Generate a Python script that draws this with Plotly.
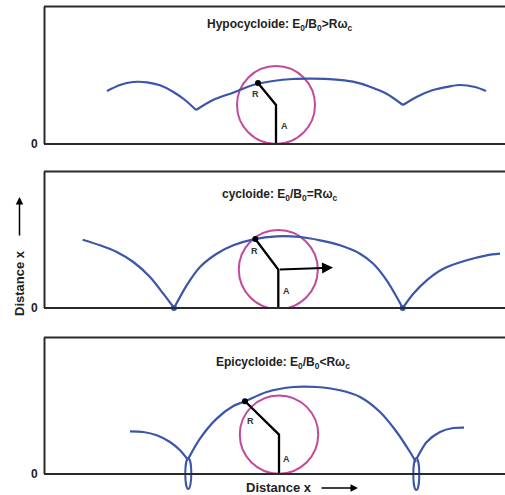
import plotly.graph_objects as go

# ---------------- data (x in px from left, y = height above baseline) -------------
hypo_left_x = [107, 120, 133, 147, 160, 173, 185, 196]
hypo_left_y = [53, 59, 62, 61.7, 58.7, 52.3, 44, 34]
hypo_mid_x = [196, 213, 233, 253, 273, 293, 313, 333, 353, 370, 387, 403]
hypo_mid_y = [34, 44, 51.3, 59, 63, 65, 65.3, 64.7, 62.3, 57.3, 50, 39]
hypo_right_x = [403, 417, 433, 450, 460, 475, 486]
hypo_right_y = [39, 47.3, 54, 57.7, 59, 57, 53]

cyc_left_x = [82.7, 100, 116.7, 133.3, 150, 163.3, 174]
cyc_left_y = [68.3, 62.7, 56, 46, 31, 14.3, 0]
cyc_mid_x = [174, 186.7, 200, 216.7, 233.3, 253.3, 276.7, 300, 320, 340, 360, 373.3, 386.7, 396.7, 402.7]
cyc_mid_y = [0, 22.7, 41, 54.3, 62.7, 68.7, 71.7, 71, 67.7, 62.7, 54.3, 44.3, 27.7, 11, 0]
cyc_right_x = [402.7, 413.3, 426.7, 443.3, 466.7, 486.7, 500]
cyc_right_y = [0, 14.3, 27.7, 39.3, 47.7, 52.7, 54.3]
cyc_cusp_x = [174, 402.7]
cyc_cusp_y = [0, 0]

epi_left_x = [130, 143.3, 156.7, 170, 180, 188.3]
epi_left_y = [42.7, 42, 38.7, 32, 23.7, 13.7]
epi_mid_x = [188.3, 200, 216.7, 233.3, 245, 266.7, 293.3, 316.7, 340, 360, 380, 396.7, 410, 416]
epi_mid_y = [15.4, 35.4, 55.4, 68, 72.7, 82, 87, 87, 83.7, 77, 62, 42, 22, 12]
epi_right_x = [416.7, 426.7, 440, 453.3, 464]
epi_right_y = [15.4, 32, 42, 46, 46.4]
epi_loop_x = [188.3, 416.3]        # loop centres
epi_loop_top = [15.7, 15.7]
epi_loop_bottom = [-15, -16]

# wheel: centre x, centre y, radius, point on rim (dot)
wheel_cx = [276, 278.3, 279]
wheel_cy = [39, 38.4, 39.4]
wheel_r = [39, 39.5, 39.2]
dot_x = [258, 255.3, 245]
dot_y = [61, 69, 72.7]
R_lab = [(255.7, 49.7), (254, 57), (250.7, 53)]
A_lab = [(284, 18), (286, 16.7), (286, 14.7)]
titles = ["<b>Hypocycloide: E<sub>0</sub>/B<sub>0</sub>&gt;Rω<sub>c</sub></b>",
          "<b>cycloide: E<sub>0</sub>/B<sub>0</sub>=Rω<sub>c</sub></b>",
          "<b>Epicycloide: E<sub>0</sub>/B<sub>0</sub>&lt;Rω<sub>c</sub></b>"]
title_pos = [(280, 119), (280, 113), (283, 111)]
drift_arrow = (333, 40.4)

# ---------------- layout helpers ----------------
W, H = 505, 495
ML, MR, MT, MB = 44, 0, 6, 4
PW, PH = W - ML - MR, H - MT - MB


def px(x):
    return (x - ML) / PW


def py(y):
    return (H - MB - y) / PH


BLUE = "#3b56a9"
MAG = "#c24a9c"
FONT = "Liberation Sans, Arial, sans-serif"

fig = go.Figure()


def curve(x, y, ax):
    fig.add_trace(go.Scatter(x=x, y=y, mode="lines", xaxis=ax[0], yaxis=ax[1],
                             line=dict(color=BLUE, width=2.2, shape="spline", smoothing=0.8),
                             hoverinfo="skip", showlegend=False))


axes = [("x", "y"), ("x2", "y2"), ("x3", "y3")]
curve(hypo_left_x, hypo_left_y, axes[0])
curve(hypo_mid_x, hypo_mid_y, axes[0])
curve(hypo_right_x, hypo_right_y, axes[0])
curve(cyc_left_x, cyc_left_y, axes[1])
curve(cyc_mid_x, cyc_mid_y, axes[1])
curve(cyc_right_x, cyc_right_y, axes[1])
fig.add_trace(go.Scatter(x=cyc_cusp_x, y=cyc_cusp_y, mode="markers", xaxis="x2", yaxis="y2",
                         marker=dict(color=BLUE, size=6), cliponaxis=False,
                         hoverinfo="skip", showlegend=False))
curve(epi_left_x, epi_left_y, axes[2])
curve(epi_mid_x, epi_mid_y, axes[2])
curve(epi_right_x, epi_right_y, axes[2])

shapes = []
annotations = []
for i, (xa, ya) in enumerate(axes):
    # wheel
    shapes.append(dict(type="circle", xref=xa, yref=ya, layer="below",
                       x0=wheel_cx[i] - wheel_r[i], x1=wheel_cx[i] + wheel_r[i],
                       y0=wheel_cy[i] - wheel_r[i], y1=wheel_cy[i] + wheel_r[i],
                       line=dict(color=MAG, width=2)))
    # A and R segments
    fig.add_trace(go.Scatter(x=[wheel_cx[i], wheel_cx[i], dot_x[i]],
                             y=[0, wheel_cy[i], dot_y[i]],
                             mode="lines", xaxis=xa, yaxis=ya,
                             line=dict(color="black", width=2.3),
                             hoverinfo="skip", showlegend=False))
    fig.add_trace(go.Scatter(x=[dot_x[i]], y=[dot_y[i]], mode="markers", xaxis=xa, yaxis=ya,
                             marker=dict(color="black", size=6),
                             hoverinfo="skip", showlegend=False))
    annotations.append(dict(xref=xa, yref=ya, x=R_lab[i][0], y=R_lab[i][1], text="<b>R</b>",
                            xanchor="center", yanchor="middle",
                            showarrow=False, font=dict(family=FONT, size=9, color="#333")))
    annotations.append(dict(xref=xa, yref=ya, x=A_lab[i][0], y=A_lab[i][1], text="<b>A</b>",
                            xanchor="center", yanchor="middle",
                            showarrow=False, font=dict(family=FONT, size=9, color="#333")))
    annotations.append(dict(xref=xa, yref=ya, x=title_pos[i][0], y=title_pos[i][1], text=titles[i],
                            xanchor="center", yanchor="middle",
                            showarrow=False, font=dict(family=FONT, size=12, color="#222")))

# loops of the epicycloid
for cx, t, b in zip(epi_loop_x, epi_loop_top, epi_loop_bottom):
    shapes.append(dict(type="circle", xref="x3", yref="y3", x0=cx - 3, x1=cx + 3, y0=b, y1=t,
                       line=dict(color=BLUE, width=2)))

# drift arrow in cycloid panel
annotations.append(dict(xref="x2", yref="y2", axref="x2", ayref="y2",
                        x=drift_arrow[0], y=drift_arrow[1], ax=wheel_cx[1], ay=wheel_cy[1],
                        text="", showarrow=True, arrowhead=2, arrowsize=1.1, arrowwidth=2,
                        arrowcolor="black"))

# panel frames (pixel positions)
frames = [(6.5, 144), (171.5, 308), (337.5, 474)]
for top, bot in frames:
    for (x0, y0, x1, y1) in [(44, top, 505, top), (44, bot, 505, bot), (44.5, top, 44.5, bot)]:
        shapes.append(dict(type="line", xref="paper", yref="paper",
                           x0=px(x0), y0=py(y0), x1=px(x1), y1=py(y1),
                           line=dict(color="#2a2a2a", width=2)))
    annotations.append(dict(xref="paper", yref="paper", x=px(40), y=py(bot), xanchor="right",
                            yanchor="middle", text="<b>0</b>", showarrow=False,
                            font=dict(family=FONT, size=12, color="#222")))

# axis labels with arrows
annotations.append(dict(xref="paper", yref="paper", x=px(279), y=py(487), text="<b>Distance x</b>",
                        xanchor="center", yanchor="middle",
                        showarrow=False, font=dict(family=FONT, size=13, color="#222")))
annotations.append(dict(xref="paper", yref="paper", x=px(358), y=py(488), ax=-38, ay=0, text="",
                        showarrow=True, arrowhead=2, arrowsize=1, arrowwidth=1.5, arrowcolor="black"))
annotations.append(dict(xref="paper", yref="paper", x=px(19), y=py(283), text="<b>Distance x</b>",
                        xanchor="center", yanchor="middle",
                        textangle=-90, showarrow=False, font=dict(family=FONT, size=13, color="#222")))
annotations.append(dict(xref="paper", yref="paper", x=px(19.5), y=py(197), ax=0, ay=40, text="",
                        showarrow=True, arrowhead=2, arrowsize=1, arrowwidth=1.5, arrowcolor="black"))

ax_common = dict(showgrid=False, zeroline=False, showline=False, showticklabels=False,
                 ticks="", fixedrange=True)
fig.update_layout(
    width=W, height=H, margin=dict(l=ML, r=MR, t=MT, b=MB),
    paper_bgcolor="white", plot_bgcolor="rgba(0,0,0,0)",
    xaxis=dict(domain=[0, 1], range=[44, 505], anchor="y", **ax_common),
    yaxis=dict(domain=[py(144), py(6)], range=[0, 138], anchor="x", **ax_common),
    xaxis2=dict(domain=[0, 1], range=[44, 505], anchor="y2", **ax_common),
    yaxis2=dict(domain=[py(308), py(171)], range=[0, 137], anchor="x2", **ax_common),
    xaxis3=dict(domain=[0, 1], range=[44, 505], anchor="y3", **ax_common),
    yaxis3=dict(domain=[0, py(337)], range=[-17, 137], anchor="x3", **ax_common),
    shapes=shapes, annotations=annotations, showlegend=False,
)

fig.write_html("out.html")
